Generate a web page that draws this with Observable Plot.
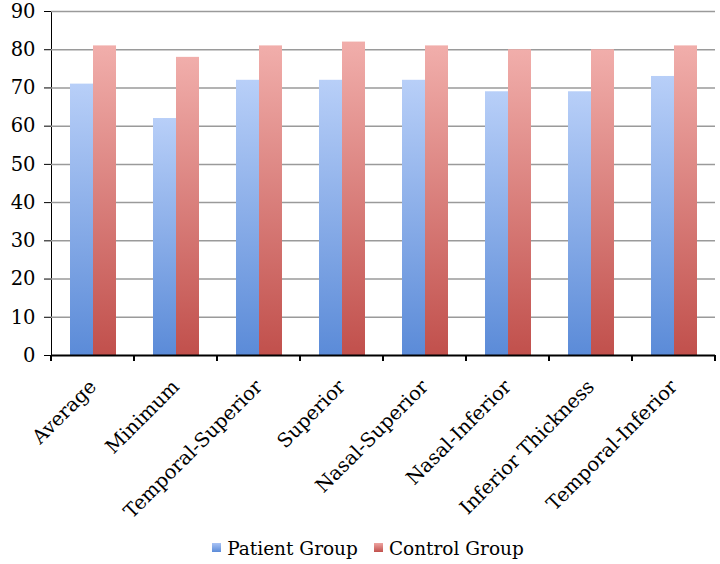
<!DOCTYPE html>
<html>
<head>
<meta charset="utf-8">
<script src="https://cdn.jsdelivr.net/npm/d3@7"></script>
<script src="https://cdn.jsdelivr.net/npm/@observablehq/plot@0.6"></script>
<style>
  html, body { margin: 0; padding: 0; background: #fff; }
  #chart { width: 720px; height: 530px; }
  #chart svg { overflow: visible; }
  #chart svg [aria-label="y-axis"] line, #chart svg [aria-label="y-axis"] path { stroke-width: 2px; stroke: #000; }
  #chart svg [aria-label="y-axis"] text { font-size: 21px; }
  .legend { height: 34px; display: flex; justify-content: center; align-items: center; gap: 16px;
            font-family: "DejaVu Serif", serif; font-size: 18.5px; color: #000; padding-left: 16px; padding-top: 2px; box-sizing: border-box; }
  .legend span.sw { display: inline-block; width: 9px; height: 9px; margin-right: 6px; vertical-align: middle; position: relative; top: -2px; }
</style>
</head>
<body>
<div id="chart"></div>
<script>
const categories = ["Average", "Minimum", "Temporal-Superior", "Superior", "Nasal-Superior", "Nasal-Inferior", "Inferior Thickness", "Temporal-Inferior"];
const groups = ["Patient Group", "Control Group"];
const patientValues = [71, 62, 72, 72, 72, 69, 69, 73];
const controlValues = [81, 78, 81, 82, 81, 80, 80, 81];
const yTicks = [0, 10, 20, 30, 40, 50, 60, 70, 80, 90];
const groupFills = {"Patient Group": "url(#gBlue)", "Control Group": "url(#gRed)"};

const rows = categories.flatMap((c, i) => [
  {category: c, group: groups[0], value: patientValues[i]},
  {category: c, group: groups[1], value: controlValues[i]}
]);

const defs = () => {
  const d = d3.create("svg:defs");
  const g1 = d.append("linearGradient").attr("id", "gBlue").attr("x1", 0).attr("x2", 0).attr("y1", 0).attr("y2", 1);
  g1.append("stop").attr("offset", "0%").attr("stop-color", "#b8cff8");
  g1.append("stop").attr("offset", "100%").attr("stop-color", "#5b8bd8");
  const g2 = d.append("linearGradient").attr("id", "gRed").attr("x1", 0).attr("x2", 0).attr("y1", 0).attr("y2", 1);
  g2.append("stop").attr("offset", "0%").attr("stop-color", "#f1aeab");
  g2.append("stop").attr("offset", "100%").attr("stop-color", "#c1504c");
  return d.node();
};

// boundary tick marks below the x axis at each facet's edges
const boundaryTicks = (index, scales, values, dimensions) => {
  const g = d3.create("svg:g");
  const x = scales.x, y = scales.y;
  let left = 0, right = 0;
  if (x && x.range) { const r = x.range(); left = Math.min(...r); right = Math.max(...r); }
  const y0 = y(0);
  [left, right].forEach(px => g.append("line").attr("x1", px).attr("x2", px).attr("y1", y0).attr("y2", y0 + 6)
    .attr("stroke", "#000").attr("stroke-width", 2));
  return g.node();
};

const chart = Plot.plot({
  width: 720,
  height: 530,
  marginTop: 11,
  marginBottom: 175,
  marginLeft: 51,
  marginRight: 5,
  style: {fontFamily: "DejaVu Serif, serif", fontSize: "19.5px", color: "#000", background: "#fff"},
  fx: {domain: categories, padding: 0, label: null, tickRotate: -45, tickSize: 0, tickPadding: 28},
  x: {domain: groups, axis: null, paddingInner: 0, paddingOuter: 0.77},
  y: {domain: [0, 90], ticks: yTicks, label: null, tickSize: 7, tickPadding: 9, line: true},
  color: {type: "identity"},
  facet: {data: rows, x: "category"},
  marks: [
    defs,
    Plot.ruleY(yTicks.slice(1), {stroke: "#9a9a9a", strokeWidth: 1.5}),
    Plot.barY(rows, {x: "group", y: "value", fill: d => groupFills[d.group]}),
    Plot.ruleY([0], {stroke: "#000", strokeWidth: 2}),
    boundaryTicks
  ]
});
document.getElementById("chart").appendChild(chart);

const legend = d3.select("body").append("div").attr("class", "legend");
[["Patient Group", "linear-gradient(#a9c3f5, #5b8bd8)"], ["Control Group", "linear-gradient(#eea4a1, #c1504c)"]].forEach(([t, bg]) => {
  const it = legend.append("div");
  it.append("span").attr("class", "sw").style("background", bg);
  it.append("span").text(t);
});
</script>
</body>
</html>
